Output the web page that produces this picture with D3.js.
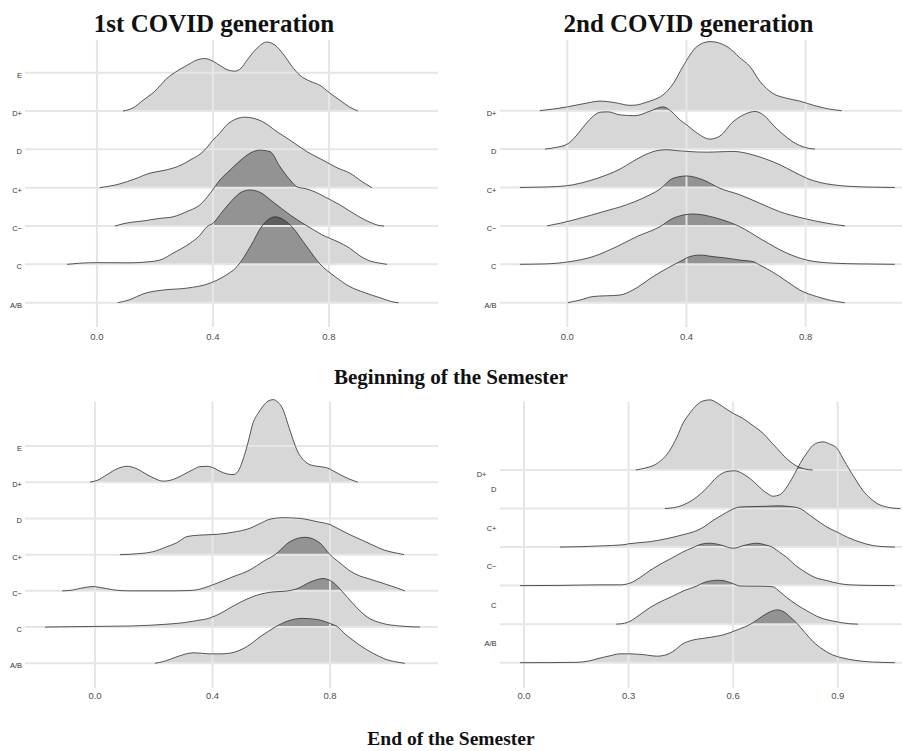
<!DOCTYPE html>
<html><head><meta charset="utf-8">
<script src="https://cdn.jsdelivr.net/npm/d3@7"></script>
<style>body{margin:0;background:#fff}svg{display:block}</style>
</head><body>
<svg id="chart" width="902" height="751"></svg>
<script>
// ---------------- data ----------------
const grades7 = ["A/B","C","C−","C+","D","D+","E"];
const grades6 = ["A/B","C","C−","C+","D","D+"];
const ticksA = [0.0,0.4,0.8];
const ticksB = [0.0,0.3,0.6,0.9];
const panelTitles = ["1st COVID generation","2nd COVID generation"];
const sectionTitles = ["Beginning of the Semester","End of the Semester"];

// ridge densities: [score, height in row units]
// 1st generation, beginning
const p1DPlus = [[.090,0],[.124,.08],[.159,.28],[.200,.52],[.241,.85],[.276,1.04],[.310,1.19],[.341,1.32],[.372,1.37],[.400,1.30],[.424,1.19],[.452,1.07],[.476,1.04],[.497,1.12],[.517,1.32],[.552,1.64],[.586,1.80],[.614,1.72],[.641,1.50],[.672,1.17],[.700,.93],[.734,.78],[.769,.67],[.803,.47],[.838,.28],[.872,.10],[.900,0]];
const p1CPlus = [[.010,0],[.079,.10],[.131,.23],[.183,.38],[.224,.44],[.262,.51],[.293,.60],[.321,.72],[.366,.94],[.400,1.24],[.424,1.43],[.448,1.64],[.479,1.79],[.510,1.84],[.541,1.81],[.572,1.72],[.621,1.46],[.666,1.24],[.724,.94],[.779,.72],[.828,.52],[.872,.38],[.914,.16],[.948,0]];
const p1CMinus = [[.062,0],[.097,.07],[.166,.14],[.217,.20],[.262,.24],[.314,.39],[.355,.55],[.390,.85],[.424,1.20],[.459,1.46],[.493,1.70],[.528,1.90],[.562,1.98],[.597,1.94],[.631,1.55],[.666,1.20],[.693,1.01],[.717,.98],[.752,.89],[.786,.76],[.838,.55],[.872,.39],[.907,.23],[.941,.10],[.976,.01],[.990,0]];
const p1C = [[-.103,0],[-.059,.03],[0,.045],[.114,.04],[.183,.07],[.224,.13],[.262,.29],[.321,.55],[.355,.76],[.379,.98],[.400,1.07],[.431,1.36],[.466,1.67],[.497,1.88],[.528,1.94],[.562,1.88],[.607,1.63],[.666,1.29],[.710,1.07],[.745,.91],[.779,.76],[.828,.60],[.872,.42],[.907,.22],[.941,.09],[.976,.03],[1.0,0]];
const p1AB = [[.072,0],[.114,.08],[.159,.23],[.228,.33],[.310,.38],[.390,.51],[.441,.70],[.483,.94],[.531,1.49],[.569,2.00],[.614,2.24],[.666,2.03],[.721,1.49],[.769,1.01],[.821,.68],[.872,.42],[.924,.26],[.976,.13],[1.028,.01],[1.040,0]];
// 2nd generation, beginning
const p2DPlus = [[-.092,0],[-.041,.05],[0,.10],[.053,.18],[.110,.25],[.160,.21],[.210,.14],[.234,.15],[.261,.21],[.288,.28],[.321,.41],[.355,.70],[.388,1.15],[.435,1.67],[.479,1.80],[.536,1.67],[.579,1.38],[.613,1.15],[.647,.76],[.690,.45],[.733,.33],[.780,.25],[.831,.13],[.881,.04],[.921,0]];
const p2D = [[-.075,0],[-.041,.04],[0,.13],[.026,.31],[.053,.57],[.083,.83],[.110,.96],[.137,.97],[.177,.89],[.227,.87],[.278,.99],[.321,1.10],[.351,.97],[.378,.76],[.401,.63],[.435,.42],[.479,.26],[.512,.34],[.556,.71],[.596,.91],[.630,.98],[.663,.86],[.690,.63],[.723,.39],[.757,.19],[.804,.03],[.831,0]];
const p2CPlus = [[-.159,0],[-.092,.01],[-.024,.03],[.019,.07],[.076,.18],[.133,.33],[.177,.48],[.220,.68],[.261,.85],[.301,.96],[.335,.985],[.368,.96],[.401,.94],[.468,.92],[.512,.93],[.556,.94],[.623,.85],[.670,.73],[.714,.59],[.757,.42],[.804,.24],[.848,.13],[.892,.07],[.949,.03],[1.016,.01],[1.099,0]];
const p2CMinus = [[-.068,0],[-.024,.07],[.043,.20],[.120,.37],[.199,.55],[.253,.72],[.311,.96],[.355,1.24],[.401,1.30],[.455,1.20],[.512,.98],[.579,.81],[.646,.59],[.713,.37],[.791,.20],[.871,.07],[.932,0]];
const p2C = [[-.159,0],[-.075,.01],[.009,.07],[.086,.20],[.166,.46],[.233,.72],[.311,.98],[.355,1.20],[.422,1.31],[.502,1.20],[.579,.98],[.656,.63],[.737,.29],[.804,.11],[.892,.03],[.982,.01],[1.099,0]];
const p2AB = [[.002,0],[.043,.07],[.086,.16],[.177,.20],[.220,.33],[.288,.68],[.355,.98],[.378,1.07],[.411,1.20],[.445,1.24],[.489,1.20],[.536,1.16],[.579,1.11],[.623,1.07],[.646,.98],[.680,.84],[.713,.68],[.747,.50],[.780,.33],[.837,.16],[.904,.03],[.931,0]];
// 1st generation, end
const p3DPlus = [[-.017,0],[.010,.06],[.041,.21],[.075,.37],[.109,.44],[.143,.37],[.177,.21],[.204,.10],[.231,.03],[.255,.05],[.279,.12],[.306,.23],[.334,.35],[.357,.43],[.381,.44],[.405,.39],[.426,.30],[.449,.23],[.470,.21],[.487,.30],[.504,.63],[.521,1.10],[.538,1.64],[.555,1.90],[.572,2.10],[.589,2.24],[.606,2.28],[.623,2.21],[.640,2.01],[.657,1.60],[.674,1.18],[.691,.83],[.708,.63],[.725,.51],[.742,.46],[.766,.43],[.789,.40],[.814,.30],[.834,.21],[.868,.08],[.895,0]];
const p3CPlus = [[.085,0],[.153,.03],[.197,.08],[.245,.22],[.279,.33],[.313,.50],[.357,.54],[.415,.56],[.470,.62],[.528,.73],[.562,.86],[.596,.98],[.640,1.02],[.698,1.00],[.756,.91],[.800,.83],[.834,.69],[.868,.55],[.912,.39],[.946,.26],[.987,.12],[1.028,.04],[1.052,0]];
const p3CMinus = [[-.112,0],[-.078,.02],[-.044,.08],[-.007,.12],[.027,.08],[.061,.03],[.092,.005],[.120,0],[.272,0],[.323,.01],[.347,.03],[.402,.17],[.470,.39],[.528,.58],[.572,.81],[.613,1.00],[.664,1.36],[.715,1.48],[.766,1.32],[.800,1.00],[.834,.77],[.868,.55],[.902,.41],[.926,.35],[.980,.21],[1.021,.10],[1.055,0]];
const p3C = [[-.170,0],[-.085,.01],[.017,.02],[.119,.03],[.187,.05],[.245,.08],[.300,.12],[.347,.18],[.391,.25],[.432,.40],[.470,.58],[.511,.75],[.551,.88],[.606,.97],[.647,.99],[.688,1.06],[.732,1.24],[.776,1.34],[.810,1.24],[.841,.99],[.878,.65],[.926,.28],[.980,.10],[1.038,.03],[1.106,0]];
const p3AB = [[.204,0],[.238,.06],[.279,.18],[.306,.25],[.334,.29],[.361,.28],[.391,.26],[.426,.26],[.460,.28],[.490,.35],[.517,.46],[.562,.73],[.613,1.00],[.657,1.17],[.705,1.24],[.756,1.21],[.800,1.10],[.827,1.00],[.851,.81],[.878,.64],[.912,.44],[.946,.28],[.987,.12],[1.038,.02],[1.055,0]];
// 2nd generation, end
const p4DPlus = [[.321,0],[.347,.05],[.382,.17],[.419,.52],[.439,.86],[.456,1.21],[.476,1.48],[.496,1.69],[.513,1.79],[.534,1.82],[.554,1.74],[.571,1.64],[.600,1.47],[.626,1.35],[.648,1.21],[.668,1.08],[.686,.95],[.706,.75],[.726,.56],[.746,.36],[.763,.22],[.783,.10],[.800,.04],[.815,.01],[.828,0]];
const p4D = [[.404,0],[.439,.04],[.468,.14],[.496,.30],[.525,.54],[.554,.82],[.582,.96],[.605,.98],[.628,.90],[.648,.78],[.668,.62],[.686,.47],[.700,.38],[.714,.32],[.734,.36],[.754,.56],[.772,.83],[.792,1.17],[.812,1.45],[.829,1.64],[.843,1.71],[.858,1.73],[.878,1.67],[.898,1.56],[.915,1.30],[.935,.99],[.955,.70],[.972,.47],[.993,.27],[1.013,.13],[1.036,.05],[1.059,.01],[1.079,0]];
const p4CPlus = [[.103,0],[.161,.01],[.218,.03],[.284,.06],[.304,.09],[.361,.14],[.410,.22],[.456,.32],[.496,.43],[.519,.54],[.542,.69],[.568,.83],[.591,.95],[.620,1.04],[.654,1.05],[.697,1.06],[.726,1.07],[.754,1.06],[.792,1.00],[.815,.86],[.841,.69],[.869,.52],[.898,.39],[.929,.25],[.964,.13],[1.001,.04],[1.036,.01],[1.064,0]];
const p4CMinus = [[-.011,0],[.103,.005],[.218,.02],[.275,.02],[.304,.065],[.333,.21],[.361,.39],[.390,.55],[.419,.69],[.453,.86],[.485,.99],[.511,1.08],[.534,1.10],[.562,1.06],[.600,.97],[.634,1.05],[.668,1.10],[.691,1.06],[.714,.99],[.734,.86],[.754,.73],[.777,.54],[.800,.39],[.835,.21],[.869,.13],[.906,.05],[.935,.02],[.993,.005],[1.064,0]];
const p4C = [[.265,0],[.295,.04],[.327,.21],[.361,.43],[.396,.60],[.427,.73],[.462,.88],[.496,.99],[.516,1.08],[.534,1.12],[.554,1.14],[.571,1.13],[.597,1.06],[.620,.99],[.648,.985],[.677,.985],[.697,.98],[.714,.97],[.734,.84],[.754,.69],[.783,.50],[.811,.35],[.849,.17],[.887,.08],[.935,.01],[.958,0]];
const p4AB = [[-.011,0],[.075,.002],[.152,.01],[.189,.05],[.209,.10],[.247,.18],[.275,.23],[.304,.23],[.341,.21],[.382,.17],[.410,.21],[.427,.29],[.456,.49],[.485,.59],[.513,.63],[.542,.67],[.571,.72],[.611,.85],[.654,1.02],[.686,1.22],[.706,1.32],[.726,1.37],[.749,1.30],[.763,1.19],[.783,1.02],[.806,.78],[.829,.55],[.858,.34],[.886,.20],[.915,.12],[.944,.07],[.978,.03],[1.021,.01],[1.064,0]];

// ---------------- layout ----------------
const panels = [
  {id:"a", grades:grades7, ridges:[["D+",p1DPlus],["C+",p1CPlus],["C−",p1CMinus],["C",p1C],["A/B",p1AB]],
   ticks:ticksA, xd:[-0.248,1.176], xr:[25,438], yr:[302.7,72.7], vg:[40,327], tickY:336, labX:22, labMode:"on"},
  {id:"b", grades:grades6, ridges:[["D+",p2DPlus],["D",p2D],["C+",p2CPlus],["C−",p2CMinus],["C",p2C],["A/B",p2AB]],
   ticks:ticksA, xd:[-0.2258,1.1232], xr:[500,902], yr:[302.7,110.7], vg:[40,327], tickY:336, labX:496.5, labMode:"on"},
  {id:"c", grades:grades7, ridges:[["D+",p3DPlus],["C+",p3CPlus],["C−",p3CMinus],["C",p3C],["A/B",p3AB]],
   ticks:ticksA, xd:[-0.2383,1.1677], xr:[25,438], yr:[663.3,446], vg:[401.5,688], tickY:695.5, labX:22, labMode:"on"},
  {id:"d", grades:grades6, ridges:[["D+",p4DPlus],["D",p4D],["C+",p4CPlus],["C−",p4CMinus],["C",p4C],["A/B",p4AB]],
   ticks:ticksB, xd:[-0.0688,1.0843], xr:[500,902], yr:[662.7,470], vg:[401.5,688], tickY:695.5, labX:496.5, labMode:"between"}
];

const svg = d3.select("#chart");
const defs = svg.append("defs");
const FILL1 = "#d7d7d7", FILL2 = "#939393", FILL3 = "#5e5e5e", GRID = "#e6e6e6", LINE = "#2e2e2e";

panels.forEach(p => {
  const x = d3.scaleLinear().domain(p.xd).range(p.xr);
  const y = d3.scalePoint().domain(p.grades).range(p.yr);
  const step = Math.abs(p.yr[0]-p.yr[1])/(p.grades.length-1);
  const g = svg.append("g");

  const areaFor = base => d3.area().x(d=>x(d[0])).y0(base).y1(d=>base - d[1]*step).curve(d3.curveMonotoneX);
  const lineFor = base => d3.line().x(d=>x(d[0])).y(d=>base - d[1]*step).curve(d3.curveMonotoneX)
                            .defined((d,i,a)=> d[1] > 0 || (a[i-1] && a[i-1][1] > 0) || (a[i+1] && a[i+1][1] > 0));
  const rs = p.ridges.map(([cat, pts], i) => {
    const base = y(cat);
    return {cat, pts, base, area: areaFor(base)(pts), line: lineFor(base)(pts), cid: `clip-${p.id}-${i}`};
  });
  rs.forEach(r => defs.append("clipPath").attr("id", r.cid).append("path").attr("d", r.area));

  // single layer
  g.append("g").selectAll("path").data(rs).join("path").attr("d", r=>r.area).attr("fill", FILL1);
  // pairwise overlaps
  const l2 = g.append("g");
  for (let i=0;i<rs.length;i++) for (let j=i+1;j<rs.length;j++)
    l2.append("g").attr("clip-path",`url(#${rs[i].cid})`).append("path").attr("d", rs[j].area).attr("fill", FILL2);
  // triple overlaps
  const l3 = g.append("g");
  for (let i=0;i<rs.length;i++) for (let j=i+1;j<rs.length;j++) for (let k=j+1;k<rs.length;k++)
    l3.append("g").attr("clip-path",`url(#${rs[i].cid})`).append("g").attr("clip-path",`url(#${rs[j].cid})`)
      .append("path").attr("d", rs[k].area).attr("fill", FILL3);

  // grid lines
  g.append("g").selectAll("line").data(p.grades).join("line")
    .attr("x1", p.xr[0]).attr("x2", p.xr[1]).attr("y1", d=>y(d)).attr("y2", d=>y(d))
    .attr("stroke", GRID).attr("stroke-width", 2);
  g.append("g").selectAll("line").data(p.ticks).join("line")
    .attr("x1", d=>x(d)).attr("x2", d=>x(d)).attr("y1", p.vg[0]).attr("y2", p.vg[1])
    .attr("stroke", GRID).attr("stroke-width", 2);

  // outlines
  g.append("g").selectAll("path").data(rs).join("path").attr("d", r=>r.line)
    .attr("fill","none").attr("stroke", LINE).attr("stroke-width", 0.8);

  // tick labels
  g.append("g").selectAll("text").data(p.ticks).join("text")
    .attr("x", d=>x(d)).attr("y", p.tickY).attr("text-anchor","middle").attr("dominant-baseline","central")
    .attr("font-family","Liberation Sans, Arial, sans-serif").attr("font-size", 9.5).attr("fill","#4d4d4d")
    .text(d=>d3.format(".1f")(d));

  // category labels
  g.append("g").selectAll("text").data(p.grades).join("text")
    .attr("x", d => (p.labMode==="between" && d==="D+") ? p.labX-10 : p.labX)
    .attr("y", d => p.labMode==="on" ? y(d)+2.5 : (d==="D+" ? y(d)+4 : y(d)-step/2+0.5))
    .attr("text-anchor","end").attr("dominant-baseline","central")
    .attr("font-family","Liberation Sans, Arial, sans-serif").attr("font-size", 7.5).attr("fill","#333")
    .text(d=>d);
});

// titles
const tfont = "Liberation Serif, 'Times New Roman', serif";
svg.append("text").attr("x",214).attr("y",32).attr("text-anchor","middle").attr("font-family",tfont)
  .attr("font-weight","bold").attr("font-size",25).attr("fill","#111").text(panelTitles[0]);
svg.append("text").attr("x",688.5).attr("y",32).attr("text-anchor","middle").attr("font-family",tfont)
  .attr("font-weight","bold").attr("font-size",25).attr("fill","#111").text(panelTitles[1]);
svg.append("text").attr("x",451).attr("y",384).attr("text-anchor","middle").attr("font-family",tfont)
  .attr("font-weight","bold").attr("font-size",21).attr("fill","#111").text(sectionTitles[0]);
svg.append("text").attr("x",451).attr("y",745).attr("text-anchor","middle").attr("font-family",tfont)
  .attr("font-weight","bold").attr("font-size",19.5).attr("fill","#111").text(sectionTitles[1]);
</script>
</body></html>
